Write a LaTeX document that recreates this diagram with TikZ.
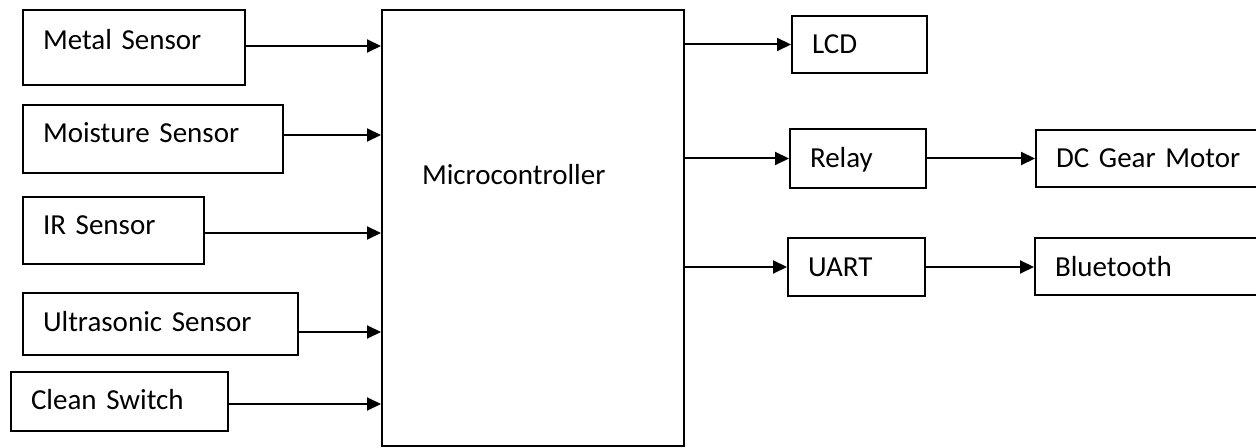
\documentclass[tikz,border=0pt]{standalone}
\usepackage{fontspec}
\setmainfont{Carlito}[WordSpace=0.75]
\usetikzlibrary{arrows.meta,positioning}

\begin{document}
\begin{tikzpicture}[
  x=0.5pt, y=-0.5pt,
  every node/.style={
    rectangle,
    draw=black, line width=1pt,
    inner xsep=10pt, inner ysep=0pt,
    text height=10pt, text depth=0.7pt,
    align=left,
    font=\fontsize{14.5}{17}\selectfont
  },
  >={Triangle[length=7pt,width=6.5pt]}, %filled triangle tips
  myline/.style={draw, line width=1pt, black},
  node distance=54pt
  ]
\useasboundingbox (0,0) rectangle (1256,448);
\begin{scope}
  \node[text width=91pt, minimum height=37.5pt, text depth=8.2pt] (S1) at (134,47.5) {Metal Sensor};
  \node[text width=110pt, minimum height=34pt, text depth=6.7pt] (S2) at (153,139) {Moisture Sensor};
  \node[text width=70.5pt, minimum height=33.5pt, text depth=6.2pt] (S3) at (113.5,230.5) {IR Sensor};
  \node[text width=117.5pt, minimum height=31pt, text depth=2.7pt] (S4) at (160.5,324) {Ultrasonic Sensor};
  \node[text width=88.5pt, minimum height=29.5pt, text depth=2.2pt] (S5) at (119.5,401.5) {Clean Switch};
\end{scope}
\node[text width=111pt, inner xsep=20pt, minimum height=218pt, text depth=53.7pt] (MC) at (533,228) {Microcontroller};
\begin{scope}
  \node[text width=47.5pt, minimum height=28.5pt] (O1) at (859.5,44.5) {LCD};
  \node[text width=48pt, minimum height=29.5pt] (O2) at (858,158.5) {Relay};
  \node[text width=48.5pt, minimum height=29pt] (O3) at (856.5,267) {UART};
  \node[text width=94pt, minimum height=28.5pt, right=of O2] (E1) {DC Gear Motor};
  \node[text width=94.5pt, minimum height=28.5pt, right=of O3] (E2) {Bluetooth};
\end{scope}
\path[myline] ([yshift=0.75pt]S1.east) edge[->] ([yshift=0.75pt]S1.east -| MC.west)
              ([yshift=2pt]S2.east) edge[->] ([yshift=2pt]S2.east -| MC.west)
              ([yshift=-1.25pt]S3.east) edge[->] ([yshift=-1.25pt]S3.east -| MC.west)
              ([yshift=-4pt]S4.east) edge[->] ([yshift=-4pt]S4.east -| MC.west)
              ([yshift=-1.25pt]S5.east) edge[->] ([yshift=-1.25pt]S5.east -| MC.west)
              ;
\path[myline] (MC.east |- O1.west) edge[->] (O1.west)
              (MC.east |- O2.west) edge[->] (O2.west)
              (MC.east |- O3.west) edge[->] (O3.west)
              (O2) edge[->] (E1)
              (O3) edge[->] (E2)
              ;
\end{tikzpicture}
\end{document}
